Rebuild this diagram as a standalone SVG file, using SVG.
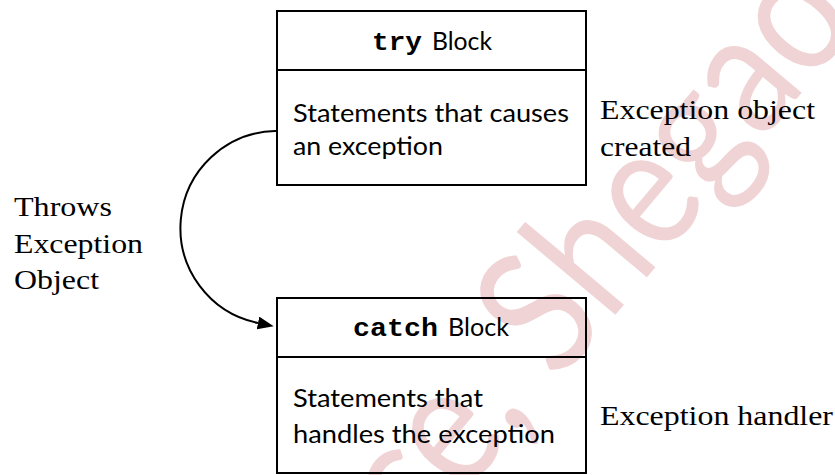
<svg xmlns="http://www.w3.org/2000/svg" width="835" height="475" viewBox="0 0 835 475">
  <style>
    .box { fill: none; stroke: #000; stroke-width: 2; }
    .sans { font-family: Lato, "Noto Sans", "Liberation Sans", sans-serif; font-size: 25px; fill: #000; }
    .mono { font-family: "Liberation Mono", "Courier New", monospace; font-weight: bold; font-size: 25px; fill: #000; }
    .serif { font-family: "Liberation Serif", "Times New Roman", serif; font-size: 28px; fill: #000; }
    .mark { font-family: Lato, "Noto Sans", sans-serif; font-size: 175px; fill: #f0d3d5; }
    .conn { fill: none; stroke: #000; stroke-width: 2; }
  </style>
  <defs>
    <marker id="arrow" markerUnits="userSpaceOnUse" markerWidth="17" markerHeight="14" refX="0" refY="6.5" orient="auto">
      <path d="M0,0 L16,6.5 L0,13 z" fill="#000"/>
    </marker>
  </defs>

  <rect width="835" height="475" fill="#fff"/>

  <!-- faint background watermark -->
  <text class="mark" transform="translate(418 550) rotate(-50)" textLength="690" lengthAdjust="spacingAndGlyphs">ce, Shegao</text>

  <!-- try block -->
  <g id="try-block">
    <rect class="box" x="277" y="11" width="309" height="174"/>
    <line class="box" x1="277" y1="70" x2="586" y2="70"/>
    <text class="mono" x="372" y="50" textLength="50" lengthAdjust="spacingAndGlyphs">try</text>
    <text class="sans" x="432" y="50" textLength="60" lengthAdjust="spacingAndGlyphs">Block</text>
    <text class="sans" x="293" y="122" textLength="276" lengthAdjust="spacingAndGlyphs">Statements that causes</text>
    <text class="sans" x="293" y="155" textLength="150" lengthAdjust="spacingAndGlyphs">an exception</text>
  </g>

  <!-- catch block -->
  <g id="catch-block">
    <rect class="box" x="277" y="298" width="309" height="175"/>
    <line class="box" x1="277" y1="357" x2="586" y2="357"/>
    <text class="mono" x="353" y="336" textLength="85" lengthAdjust="spacingAndGlyphs">catch</text>
    <text class="sans" x="448" y="336" textLength="61" lengthAdjust="spacingAndGlyphs">Block</text>
    <text class="sans" x="293" y="407" textLength="190" lengthAdjust="spacingAndGlyphs">Statements that</text>
    <text class="sans" x="293" y="443" textLength="262" lengthAdjust="spacingAndGlyphs">handles the exception</text>
  </g>

  <!-- side notes -->
  <g id="note-created">
    <text class="serif" x="600" y="119" textLength="215" lengthAdjust="spacingAndGlyphs">Exception object</text>
    <text class="serif" x="600" y="156" textLength="91" lengthAdjust="spacingAndGlyphs">created</text>
  </g>
  <g id="note-handler">
    <text class="serif" x="600" y="425" textLength="233" lengthAdjust="spacingAndGlyphs">Exception handler</text>
  </g>
  <g id="note-throws">
    <text class="serif" x="14" y="216" textLength="98" lengthAdjust="spacingAndGlyphs">Throws</text>
    <text class="serif" x="14" y="253" textLength="129" lengthAdjust="spacingAndGlyphs">Exception</text>
    <text class="serif" x="14" y="289" textLength="85" lengthAdjust="spacingAndGlyphs">Object</text>
  </g>

  <!-- connector: try block throws to catch block -->
  <g id="connectors">
    <path class="conn" d="M277,131 L275,131 A97,97 0 0 0 258,323" marker-end="url(#arrow)"/>
  </g>
</svg>
